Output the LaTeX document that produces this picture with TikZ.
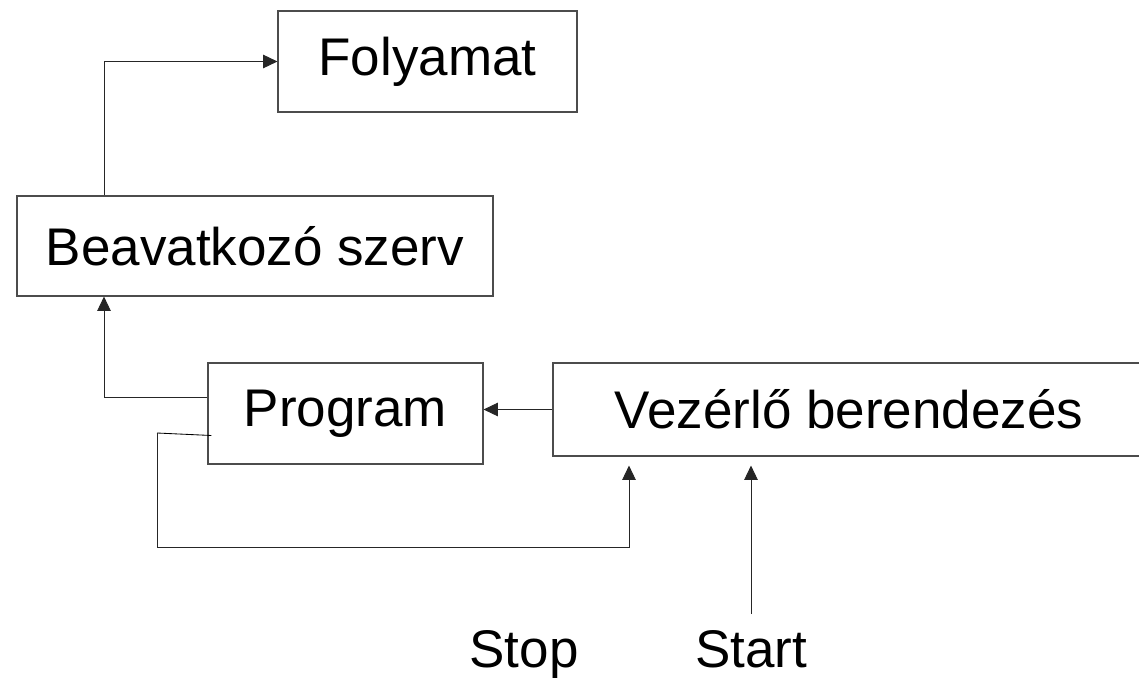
\documentclass[tikz,border=0pt]{standalone}
\usepackage{fontspec}
\setmainfont{Liberation Sans}
\usetikzlibrary{arrows.meta}

\begin{document}
\begin{tikzpicture}[x=0.25mm, y=-0.25mm, line width=0.6pt,
    blokk/.style={draw=black!70, line width=0.8pt, inner sep=0pt, font=\fontsize{37.7}{45}\selectfont},
    felirat/.style={anchor=base, font=\fontsize{37.7}{45}\selectfont},
    nyil/.style={-{Triangle[length=3.6mm,width=3.4mm]}, draw=black!85}]
  \useasboundingbox (0,0) rectangle (1139,680);
  \node[blokk, minimum width=74.75mm, minimum height=25.25mm] (foly) at (427.5,61.5) {Folyamat};
  \node[blokk, minimum width=119mm, minimum height=25mm] (beav) at (255,246) {Beavatkozó szerv};
  \node[blokk, minimum width=68.75mm, minimum height=25.25mm] (prog) at (345.5,413.5) {Program};
  \node[blokk, minimum width=148mm, minimum height=23.25mm] (vez) at (849,409.5) {Vezérlő berendezés};
  \node[felirat] (stop) at (524,667) {Stop};
  \node[felirat] (start) at (751,667) {Start};
  \coordinate (jx) at (104,0);
  \coordinate (fb) at (157,433);
  \coordinate (sx) at (629,547);
  \draw[nyil] (beav.north -| jx) |- (foly.west);
  \draw[nyil] (prog.west |- 0,397) -| (beav.south -| jx);
  \draw[nyil] (vez.west) -- (prog.east |- vez.west);
  \draw ([shift={(4,22)}]prog.west) -- (fb);
  \draw[nyil, shorten >=2.25mm] (fb) |- (sx) -- (vez.south -| sx);
  \draw[nyil, shorten >=2.25mm] (start.north |- 0,614) -- (vez.south -| start);
\end{tikzpicture}
\end{document}
